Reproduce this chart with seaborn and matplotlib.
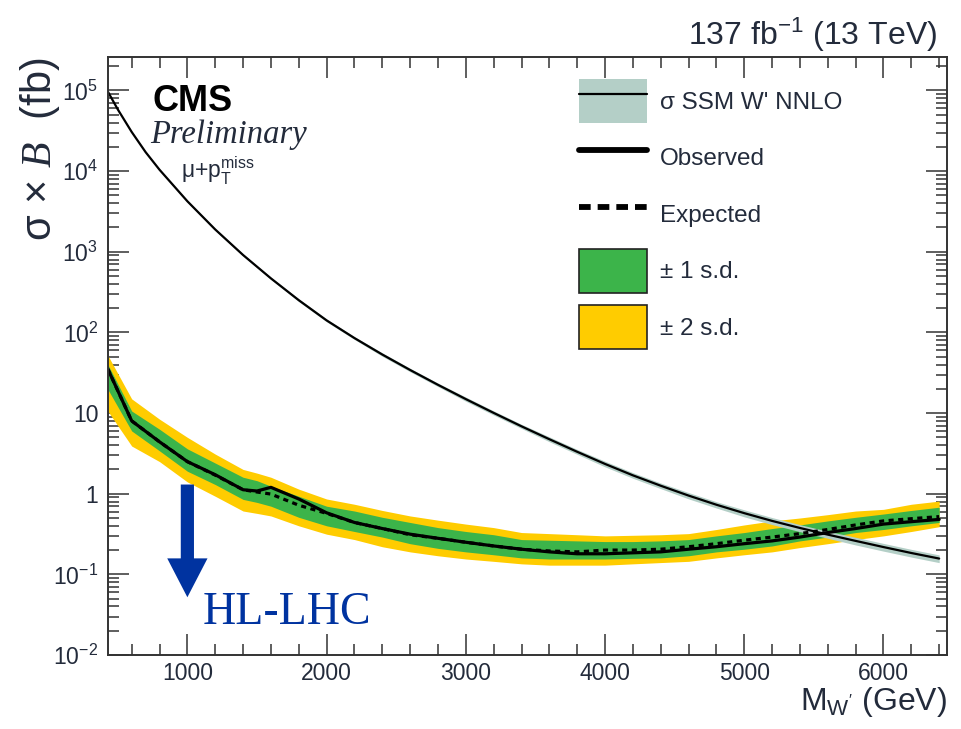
import numpy as np
import pandas as pd
import seaborn as sns
import matplotlib.pyplot as plt
from matplotlib.lines import Line2D
from matplotlib.patches import Patch
from matplotlib.ticker import FixedLocator, MultipleLocator, LogLocator, NullFormatter

# SSM W' theory curve (fb)
theory_mass = [400, 500, 600, 700, 800, 1000, 1200, 1400, 1600, 1800, 2000, 2200, 2400,
               2600, 2800, 3000, 3200, 3400, 3600, 3800, 4000, 4200, 4400, 4600, 4800,
               5000, 5200, 5400, 5600, 5800, 6000, 6200, 6400]
theory_xsec = [1.19e5, 5.83e4, 3.06e4, 1.72e4, 1.04e4, 4.23e3, 1.89e3, 912, 468, 251, 141,
               85.1, 53.2, 34.2, 22.4, 14.9, 10.05, 6.85, 4.74, 3.31, 2.34, 1.69, 1.256,
               0.948, 0.730, 0.574, 0.460, 0.376, 0.311, 0.260, 0.218, 0.184, 0.157]
theory_rel_unc = [0.02, 0.02, 0.02, 0.02, 0.02, 0.03, 0.03, 0.03, 0.03, 0.04, 0.04, 0.04, 0.05,
                  0.05, 0.05, 0.06, 0.06, 0.06, 0.07, 0.07, 0.08, 0.08, 0.08, 0.09, 0.09,
                  0.10, 0.10, 0.10, 0.10, 0.11, 0.11, 0.11, 0.11]

# 95% CL limits (fb)
limit_mass = [400, 600, 800, 1000, 1200, 1400, 1500, 1600, 1800, 2000, 2200, 2400, 2600,
              2800, 3000, 3200, 3400, 3600, 3800, 4000, 4200, 4400, 4600, 4800, 5000,
              5200, 5400, 5600, 5800, 6000, 6200, 6400]
observed = [45, 8.0, 4.4, 2.5, 1.72, 1.12, 1.08, 1.2, 0.86, 0.58, 0.44, 0.37, 0.315,
            0.28, 0.25, 0.225, 0.205, 0.19, 0.18, 0.18, 0.185, 0.19, 0.205, 0.22, 0.24,
            0.26, 0.29, 0.33, 0.37, 0.42, 0.45, 0.48]
expected = [45, 8.0, 4.4, 2.5, 1.7, 1.12, 1.05, 0.99, 0.72, 0.57, 0.44, 0.37, 0.31,
            0.28, 0.25, 0.225, 0.205, 0.195, 0.19, 0.20, 0.20, 0.205, 0.22, 0.24, 0.265,
            0.29, 0.32, 0.36, 0.41, 0.46, 0.49, 0.52]
band1_hi = [50, 10.6, 6.3, 3.6, 2.4, 1.6, 1.45, 1.24, 0.93, 0.70, 0.61, 0.51, 0.44,
            0.38, 0.34, 0.31, 0.27, 0.265, 0.26, 0.255, 0.255, 0.26, 0.27, 0.30, 0.33,
            0.37, 0.41, 0.46, 0.51, 0.56, 0.62, 0.68]
band1_lo = [24, 6.0, 3.4, 1.9, 1.3, 0.85, 0.78, 0.70, 0.51, 0.40, 0.34, 0.29, 0.24,
            0.21, 0.19, 0.175, 0.16, 0.155, 0.155, 0.155, 0.158, 0.16, 0.17, 0.19, 0.205,
            0.225, 0.26, 0.29, 0.33, 0.36, 0.40, 0.44]
band2_hi = [64, 15, 8.4, 5.0, 3.1, 2.0, 1.8, 1.6, 1.14, 0.86, 0.74, 0.62, 0.53,
            0.47, 0.42, 0.38, 0.33, 0.32, 0.31, 0.30, 0.305, 0.31, 0.32, 0.36, 0.41,
            0.46, 0.50, 0.55, 0.61, 0.64, 0.74, 0.81]
band2_lo = [12.5, 3.9, 2.5, 1.4, 0.93, 0.61, 0.57, 0.53, 0.40, 0.315, 0.27, 0.22, 0.19,
            0.17, 0.155, 0.145, 0.135, 0.13, 0.13, 0.13, 0.135, 0.14, 0.145, 0.16, 0.175,
            0.19, 0.215, 0.24, 0.27, 0.30, 0.34, 0.39]

y_ticks = [1e-2, 1e-1, 1, 10, 1e2, 1e3, 1e4, 1e5]
y_tick_labels = ['$10^{-2}$', '$10^{-1}$', '1', '10', '$10^{2}$', '$10^{3}$', '$10^{4}$', '$10^{5}$']

green = '#3cb44a'
yellow = '#ffcc00'
theory_band = '#b4cfc7'
blue = '#0033a0'
text_col = '#232b3b'

theory = pd.DataFrame({'mass': theory_mass, 'xsec': theory_xsec, 'rel': theory_rel_unc})
theory['lo'] = theory['xsec'] * (1 - theory['rel'])
theory['hi'] = theory['xsec'] * (1 + theory['rel'])
limits = pd.DataFrame({'mass': limit_mass, 'obs': observed, 'exp': expected,
                       'g_lo': band1_lo, 'g_hi': band1_hi, 'y_lo': band2_lo, 'y_hi': band2_hi})

sns.set_style('ticks')
plt.rcParams['font.family'] = ['Liberation Sans', 'DejaVu Sans']
plt.rcParams['mathtext.fontset'] = 'custom'
plt.rcParams['mathtext.rm'] = 'Liberation Sans'
plt.rcParams['mathtext.it'] = 'Liberation Sans:italic'
plt.rcParams['mathtext.cal'] = 'Liberation Serif:italic'
plt.rcParams['mathtext.sf'] = 'Liberation Sans'

fig = plt.figure(figsize=(9.61, 7.29), dpi=100)
ax = fig.add_axes([0.1124, 0.1015, 0.8730, 0.8203])
ax.set_yscale('log')

# bands
ax.fill_between(limits['mass'], limits['y_lo'], limits['y_hi'], color=yellow, lw=0)
ax.fill_between(limits['mass'], limits['g_lo'], limits['g_hi'], color=green, lw=0)
sns.lineplot(data=limits, x='mass', y='exp', ax=ax, color='black', lw=2.3,
             linestyle=(0, (1.6, 1.4)), estimator=None, sort=False, legend=False)
sns.lineplot(data=limits, x='mass', y='obs', ax=ax, color='black', lw=2.3,
             estimator=None, sort=False, legend=False)
ax.fill_between(theory['mass'], theory['lo'], theory['hi'], color=theory_band, lw=0)
sns.lineplot(data=theory, x='mass', y='xsec', ax=ax, color='black', lw=1.6,
             estimator=None, sort=False, legend=False)

ax.set_xlim(430, 6456)
ax.set_ylim(1e-2, 2.6e5)

ax.xaxis.set_major_locator(MultipleLocator(1000))
ax.xaxis.set_minor_locator(MultipleLocator(200))
ax.yaxis.set_major_locator(FixedLocator(y_ticks))
ax.set_yticklabels(y_tick_labels)
ax.yaxis.set_minor_locator(LogLocator(base=10, subs=np.arange(2, 10), numticks=30))
ax.yaxis.set_minor_formatter(NullFormatter())
ax.tick_params(which='both', direction='in', top=True, right=True, width=1.1,
               color='#333333', labelcolor=text_col, labelsize=16.5)
ax.tick_params(which='major', length=15)
ax.tick_params(which='minor', length=8)
ax.tick_params(axis='y', pad=7)
ax.tick_params(axis='x', pad=5)
for s in ax.spines.values():
    s.set_linewidth(1.4)
    s.set_color('#333333')

ax.set_xlabel(r"M$_{\mathrm{W'}}$ (GeV)", fontsize=23, color=text_col, loc='right')
ax.xaxis.set_label_coords(1.0, -0.092)
ax.xaxis.label.set_va('baseline')
ax.set_ylabel(r'σ × $\mathcal{B}$  (fb)', fontsize=30, color=text_col, loc='top')
ax.yaxis.set_label_coords(-0.081, 1.0)
ax.yaxis.label.set_va('center')

fig.text(937 / 961, 1 - 45 / 729, r'137 fb$^{-1}$ (13 TeV)', ha='right', va='baseline',
         fontsize=23, color=text_col)

ax.text(0.0536, 0.909, 'CMS', transform=ax.transAxes, fontsize=26, weight='bold',
        va='baseline', color='black')
ax.text(0.050, 0.857, 'Preliminary', transform=ax.transAxes, fontsize=23.5,
        family='Liberation Serif', style='italic', va='baseline', color=text_col)
ax.text(0.087, 0.796, r'μ+p$_{\mathrm{T}}^{\mathrm{miss}}$', transform=ax.transAxes,
        fontsize=16.5, va='baseline', color=text_col)

# HL-LHC arrow
arrow_x, arrow_top, arrow_tip = 1000, 1.3, 0.052
ax.annotate('', xy=(arrow_x, arrow_tip), xytext=(arrow_x, arrow_top),
            arrowprops=dict(arrowstyle='simple,head_length=28,head_width=29,tail_width=9.5',
                            mutation_scale=1, fc=blue, ec='none', shrinkA=0, shrinkB=0))
ax.text(1108, 0.024, 'HL-LHC', fontsize=33, family='Liberation Serif', color=blue,
        va='baseline')

handles = [
    (Patch(facecolor=theory_band, edgecolor='none'), Line2D([], [], color='black', lw=1.6)),
    Line2D([], [], color='black', lw=4.2),
    Line2D([], [], color='black', lw=4.2, linestyle=(0, (2.0, 1.2))),
    Patch(facecolor=green, edgecolor='#222222', lw=1.2),
    Patch(facecolor=yellow, edgecolor='#222222', lw=1.2),
]
labels = ["σ SSM W' NNLO", 'Observed', 'Expected', '± 1 s.d.', '± 2 s.d.']
leg = ax.legend(handles, labels, loc='upper left', bbox_to_anchor=(0.561, 0.963),
                frameon=False, fontsize=17.5, handlelength=2.8, handleheight=2.4,
                labelspacing=0.52, handletextpad=0.54, borderpad=0, borderaxespad=0)
for t in leg.get_texts():
    t.set_color(text_col)

fig.savefig('out.png', dpi=100)
